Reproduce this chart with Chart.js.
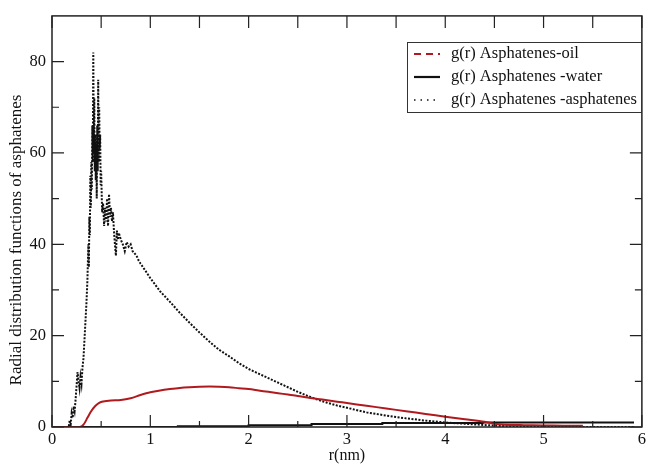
<!DOCTYPE html>
<html>
<head>
<meta charset="utf-8">
<script src="https://cdn.jsdelivr.net/npm/chart.js@4.4.1/dist/chart.umd.min.js"></script>
<style>
html,body{margin:0;padding:0;background:#fff;}
#wrap{position:relative;width:649px;height:465px;}
</style>
</head>
<body>
<div id="wrap"><canvas id="c" width="649" height="465"></canvas></div>
<script>
// ---- data ----
const seriesLabels = ["g(r) Asphatenes-oil", "g(r) Asphatenes -water", "g(r) Asphatenes -asphatenes"];

const rOil = [0,0.28,0.32,0.36,0.40,0.44,0.48,0.52,0.6,0.7,0.8,0.9,1.0,1.1,1.2,1.3,1.4,1.5,1.6,1.7,1.8,1.9,2.0,2.1,2.2,2.3,2.4,2.5,2.6,2.7,2.8,2.9,3.0,3.2,3.4,3.6,3.8,4.0,4.2,4.4,4.5,4.6,4.8,5.0,5.2,5.4];
const gOil = [0,0,0.5,2.0,3.5,4.6,5.3,5.6,5.8,5.9,6.3,7.0,7.6,8.0,8.3,8.55,8.7,8.8,8.85,8.8,8.7,8.5,8.3,8.0,7.7,7.4,7.1,6.8,6.45,6.15,5.85,5.55,5.25,4.65,4.05,3.45,2.85,2.25,1.7,1.15,0.7,0.5,0.4,0.35,0.3,0.25];

const rWater = [0,1.28,1.28,2.0,2.0,2.64,2.64,3.36,3.36,4.38,4.38,5.92];
const gWater = [0,0,0.15,0.15,0.4,0.4,0.65,0.65,0.85,0.85,1.0,1.0];

const rAsph = [0,0.17,0.18,0.19,0.20,0.21,0.22,0.23,0.24,0.25,0.26,0.27,0.28,0.29,0.30,0.31,0.32,0.33,0.34,0.35,0.36,0.37,0.375,0.38,0.385,0.39,0.395,0.40,0.405,0.41,0.415,0.42,0.425,0.43,0.435,0.44,0.445,0.45,0.455,0.46,0.465,0.47,0.475,0.48,0.485,0.49,0.495,0.50,0.51,0.52,0.53,0.54,0.55,0.56,0.57,0.58,0.59,0.60,0.61,0.62,0.63,0.64,0.65,0.66,0.67,0.68,0.70,0.72,0.74,0.76,0.78,0.80,0.82,0.84,0.86,0.88,0.90,0.95,1.0,1.1,1.2,1.3,1.4,1.5,1.6,1.7,1.8,1.9,2.0,2.1,2.2,2.3,2.4,2.5,2.6,2.7,2.8,2.9,3.0,3.2,3.4,3.6,3.8,4.0,4.2,4.4,4.6,4.8,5.0,5.92];
const gAsph = [0,0,1.5,0.5,3,2,4.5,3.5,6,9,12,10,8.5,11,9.5,13,15,19,23,27,32,40,35,46,42,55,48,58,52,66,58,82,60,72,56,64,54,62,50,66,56,76,58,70,61,64,53,56,47,49,44,48,45,50,44,51,46,48,45,47,43,40,37.5,43,41,42.5,41,40,38.5,40.5,39.5,40,38.5,38,37.5,36.5,35.8,34.2,32.6,29.7,27.4,25.0,22.8,20.7,18.7,16.9,15.5,14.0,12.7,11.7,10.7,9.7,8.7,7.7,6.8,6.0,5.3,4.7,4.2,3.2,2.5,1.9,1.4,1.0,0.7,0.43,0.2,0.05,0,0];

const xMin = 0, xMax = 6, yMin = 0, yMax = 90;
const xMajor = [0,1,2,3,4,5,6];
const xMinor = [0.5,1.5,2.5,3.5,4.5,5.5];
const yMajor = [0,20,40,60,80];
const yMinor = [10,30,50,70];
const xTitle = "r(nm)";
const yTitle = "Radial distribution functions of asphatenes";

const RED = "#b0191e";
const INK = "#111111";
const SERIF = "'Liberation Serif','DejaVu Serif',serif";

function pts(xs, ys){ return xs.map((x,i)=>({x:x, y:ys[i]})); }

const legendStyles = [
  {color: RED, dash: [7,5], width: 2},
  {color: INK, dash: [], width: 2.2},
  {color: INK, dash: [1.5,5], width: 1.5}
];

const framePlugin = {
  id: 'frame',
  afterDatasetsDraw(chart){
    const ctx = chart.ctx, a = chart.chartArea;
    const xs = chart.scales.x, ys = chart.scales.y;
    ctx.save();
    ctx.strokeStyle = "#222";
    ctx.lineWidth = 1.5;
    ctx.strokeRect(a.left, a.top, a.right - a.left, a.bottom - a.top);
    ctx.lineWidth = 1.2;
    ctx.beginPath();
    xMajor.forEach(v=>{
      const p = xs.getPixelForValue(v);
      ctx.moveTo(p, a.bottom); ctx.lineTo(p, a.bottom - 12);
      ctx.moveTo(p, a.top); ctx.lineTo(p, a.top + 12);
    });
    xMinor.forEach(v=>{
      const p = xs.getPixelForValue(v);
      ctx.moveTo(p, a.bottom); ctx.lineTo(p, a.bottom - 6);
      ctx.moveTo(p, a.top); ctx.lineTo(p, a.top + 12);
    });
    yMajor.forEach(v=>{
      const p = ys.getPixelForValue(v);
      ctx.moveTo(a.left, p); ctx.lineTo(a.left + 12, p);
      ctx.moveTo(a.right, p); ctx.lineTo(a.right - 12, p);
    });
    yMinor.forEach(v=>{
      const p = ys.getPixelForValue(v);
      ctx.moveTo(a.left, p); ctx.lineTo(a.left + 7, p);
      ctx.moveTo(a.right, p); ctx.lineTo(a.right - 7, p);
    });
    ctx.stroke();

    // y-axis title
    ctx.fillStyle = INK;
    ctx.font = "17px " + SERIF;
    ctx.textAlign = "center";
    ctx.textBaseline = "middle";
    ctx.translate(17, 240);
    ctx.rotate(-Math.PI/2);
    ctx.fillText(yTitle, 0, 0);
    ctx.restore();

    // legend
    ctx.save();
    const bx = 407, by = 42, bw = 234, bh = 70;
    ctx.fillStyle = "#fff";
    ctx.fillRect(bx, by, bw, bh);
    ctx.strokeStyle = "#333";
    ctx.lineWidth = 1;
    ctx.strokeRect(bx + 0.5, by + 0.5, bw, bh);
    ctx.font = "16.5px " + SERIF;
    ctx.textAlign = "left";
    ctx.textBaseline = "middle";
    seriesLabels.forEach((lab, i)=>{
      const yy = by + 12 + i * 23;
      const st = legendStyles[i];
      ctx.strokeStyle = st.color;
      ctx.lineWidth = st.width;
      ctx.setLineDash(st.dash);
      ctx.beginPath();
      ctx.moveTo(bx + 7, yy); ctx.lineTo(bx + 33, yy);
      ctx.stroke();
      ctx.setLineDash([]);
      ctx.fillStyle = INK;
      ctx.fillText(lab, bx + 44, yy);
    });
    ctx.restore();
  }
};

new Chart(document.getElementById('c'), {
  type: 'scatter',
  data: {
    datasets: [
      {label: seriesLabels[0], data: pts(rOil, gOil), showLine: true, borderColor: RED, borderWidth: 2, pointRadius: 0, tension: 0.3},
      {label: seriesLabels[1], data: pts(rWater, gWater), showLine: true, borderColor: INK, borderWidth: 2, pointRadius: 0, tension: 0},
      {label: seriesLabels[2], data: pts(rAsph, gAsph), showLine: true, borderColor: INK, borderWidth: 2, borderDash: [2,1.5], pointRadius: 0, tension: 0}
    ]
  },
  options: {
    responsive: false,
    animation: false,
    events: [],
    layout: {padding: {left: 0, right: 4, top: 12, bottom: 0}},
    plugins: {legend: {display: false}, tooltip: {enabled: false}},
    scales: {
      x: {
        type: 'linear', min: xMin, max: xMax,
        afterFit(s){ s.height = 38; },
        afterBuildTicks(s){ s.ticks = xMajor.map(v=>({value:v})); },
        grid: {display: false, drawTicks: false},
        border: {display: false},
        ticks: {color: INK, font: {family: SERIF, size: 16.5}, padding: 3, maxRotation: 0},
        title: {display: true, text: xTitle, color: INK, font: {family: SERIF, size: 16}, padding: {top: 0, bottom: 0}}
      },
      y: {
        type: 'linear', min: yMin, max: yMax,
        afterFit(s){ s.width = 52; },
        afterBuildTicks(s){ s.ticks = yMajor.map(v=>({value:v})); },
        grid: {display: false, drawTicks: false},
        border: {display: false},
        ticks: {color: INK, font: {family: SERIF, size: 16.5}, padding: 6}
      }
    }
  },
  plugins: [framePlugin]
});
</script>
</body>
</html>
